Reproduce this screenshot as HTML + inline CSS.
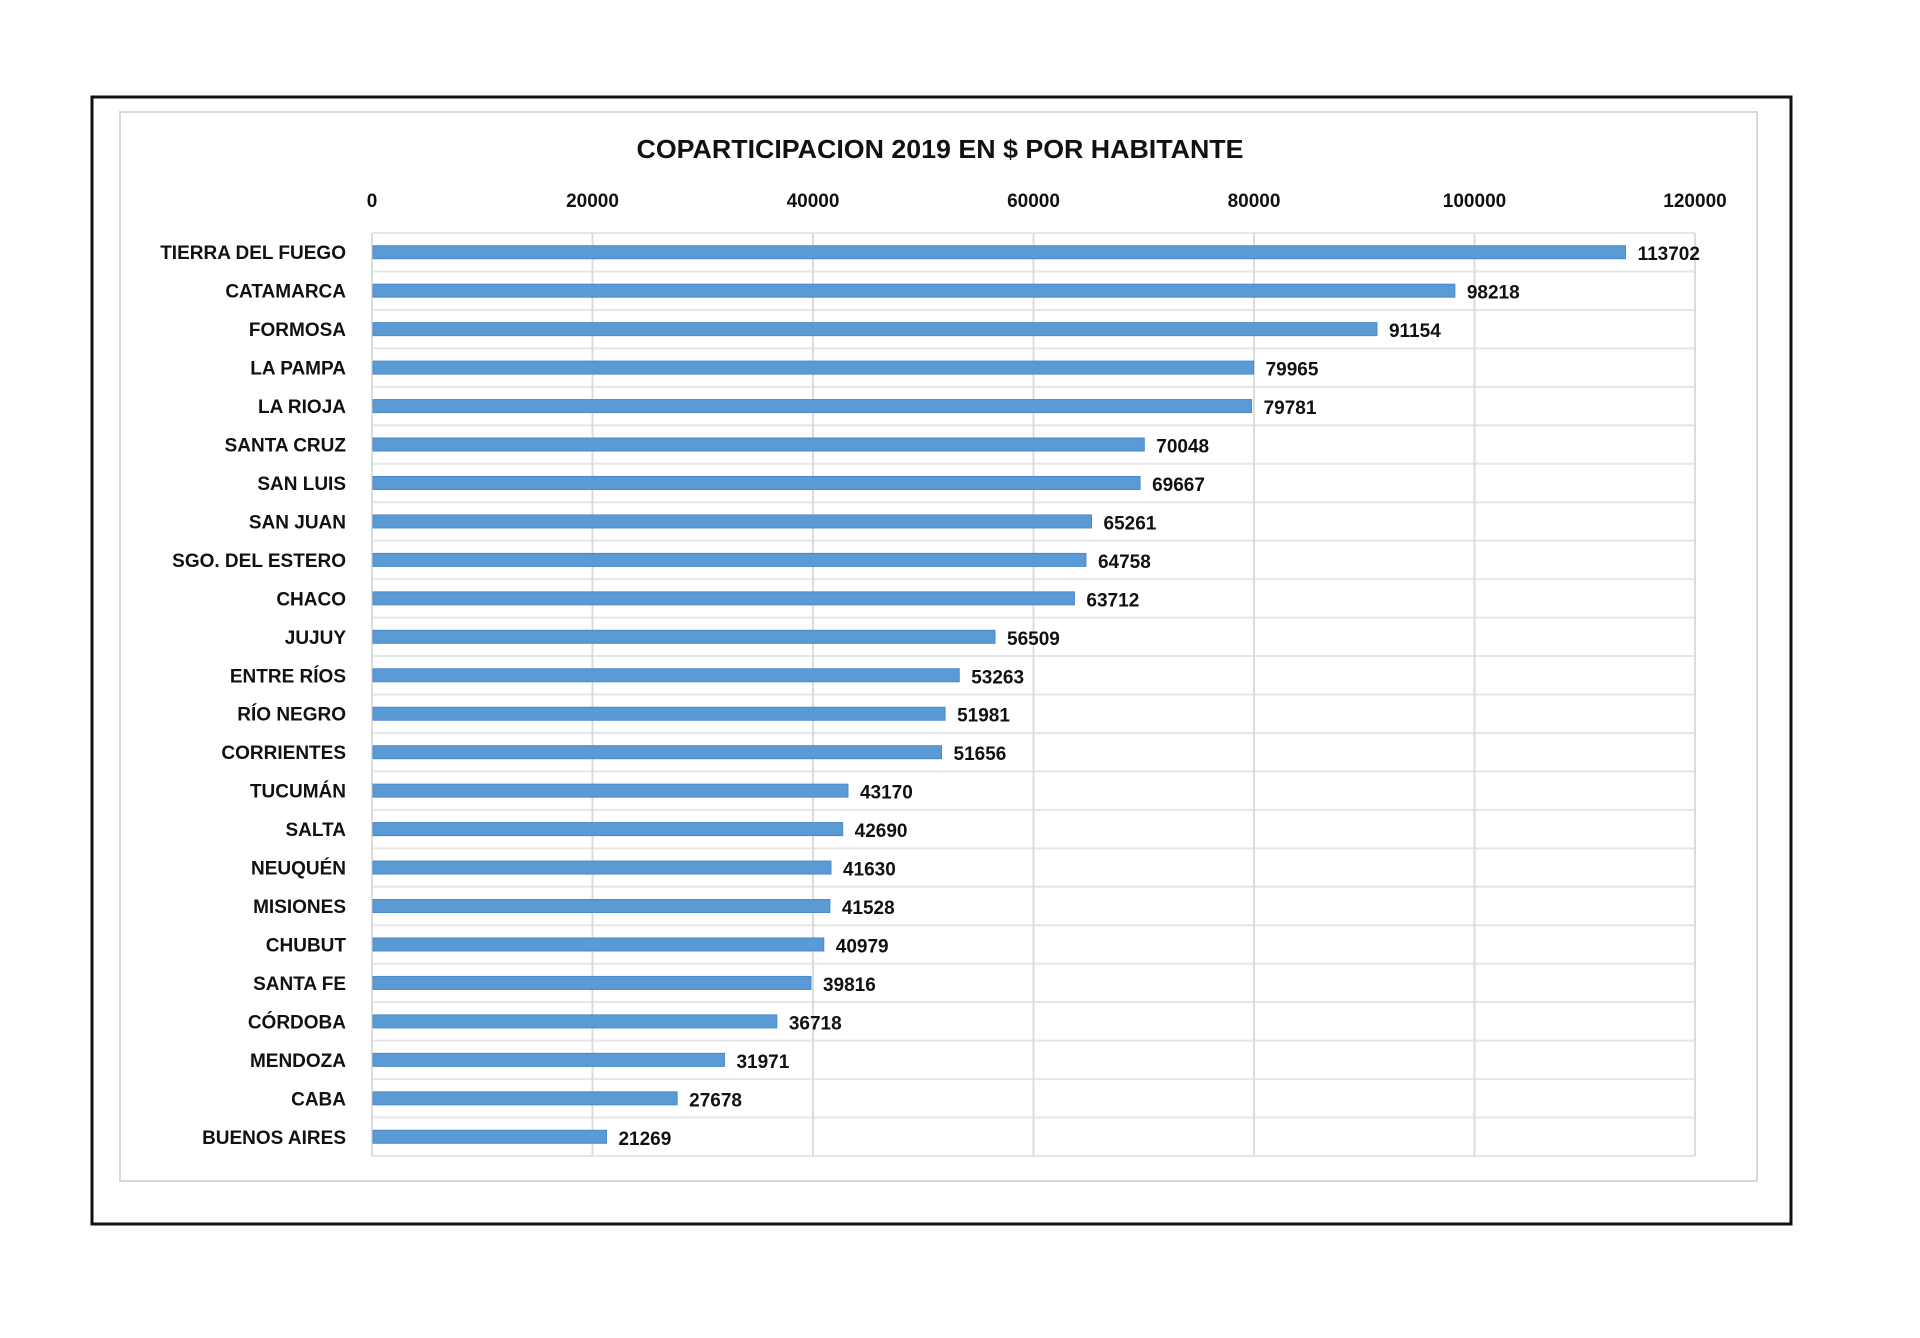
<!DOCTYPE html>
<html><head><meta charset="utf-8"><style>
html,body{margin:0;padding:0;background:#fff;}
svg{display:block;font-family:"Liberation Sans",Arial,sans-serif;font-weight:bold;}
</style></head><body>
<svg id="chart" width="1920" height="1338" viewBox="0 0 1920 1338" xmlns="http://www.w3.org/2000/svg">
<rect x="92" y="97" width="1699" height="1127" fill="#fff" stroke="#111" stroke-width="3"/>
<rect x="120" y="112" width="1637" height="1069" fill="#fff" stroke="#d9d9d9" stroke-width="2"/>
<text x="940" y="158" text-anchor="middle" font-size="26" textLength="607" lengthAdjust="spacingAndGlyphs" fill="#111">COPARTICIPACION 2019 EN $ POR HABITANTE</text>
<g id="grid"></g>
<g id="ticks"></g>
<g id="bars"></g>
<g id="cats"></g>
<g id="vals"></g>
</svg>
<script>
const categories = ["TIERRA DEL FUEGO","CATAMARCA","FORMOSA","LA PAMPA","LA RIOJA","SANTA CRUZ","SAN LUIS","SAN JUAN","SGO. DEL ESTERO","CHACO","JUJUY","ENTRE RÍOS","RÍO NEGRO","CORRIENTES","TUCUMÁN","SALTA","NEUQUÉN","MISIONES","CHUBUT","SANTA FE","CÓRDOBA","MENDOZA","CABA","BUENOS AIRES"];
const values = [113702,98218,91154,79965,79781,70048,69667,65261,64758,63712,56509,53263,51981,51656,43170,42690,41630,41528,40979,39816,36718,31971,27678,21269];
const tickValues = [0,20000,40000,60000,80000,100000,120000];
const tickLabels = ["0","20000","40000","60000","80000","100000","120000"];

const NS = "http://www.w3.org/2000/svg";
const x0 = 372, x1 = 1695, xMax = 120000;
const plotTop = 233, plotBottom = 1156;
const rowH = (plotBottom - plotTop) / categories.length;
const barH = 13;
function xScale(v){ return x0 + (v / xMax) * (x1 - x0); }
function yCenter(i){ return plotTop + rowH * (i + 0.5); }
function mk(tag, attrs, parent){
  const e = document.createElementNS(NS, tag);
  for (const k in attrs) e.setAttribute(k, attrs[k]);
  parent.appendChild(e);
  return e;
}
const grid = document.getElementById('grid');
const ticks = document.getElementById('ticks');
const bars = document.getElementById('bars');
const cats = document.getElementById('cats');
const vals = document.getElementById('vals');

for (let i = 0; i <= categories.length; i++) {
  const y = plotTop + rowH * i;
  const l = mk('line', {x1: x0, x2: x1, y1: y, y2: y, stroke: '#e6e6e6', 'stroke-width': 2}, grid);
  
  
}
tickValues.forEach((t, i) => {
  const x = xScale(t);
  const l = mk('line', {x1: x, x2: x, y1: plotTop, y2: plotBottom, stroke: '#dcdcdc', 'stroke-width': 2}, grid);
  
  
  const tx = mk('text', {x: x, y: 207, 'text-anchor': 'middle', 'font-size': 19, fill: '#111'}, ticks);
  
  
  tx.textContent = tickLabels[i];
});
categories.forEach((c, i) => {
  const y = yCenter(i);
  const r = mk('rect', {x: x0 + 1, y: y - barH / 2, width: xScale(values[i]) - x0 - 1, height: barH, fill: '#5b9bd5', stroke: '#4a89c8', 'stroke-width': 1}, bars);
  
  
  const t = mk('text', {x: 346, y: y + 7, 'text-anchor': 'end', 'font-size': 19, fill: '#111'}, cats);
  
  
  t.textContent = c;
  const v = mk('text', {x: xScale(values[i]) + 12, y: y + 8, 'font-size': 19, fill: '#111'}, vals);
  
  
  v.textContent = String(values[i]);
});
</script>
</body></html>
